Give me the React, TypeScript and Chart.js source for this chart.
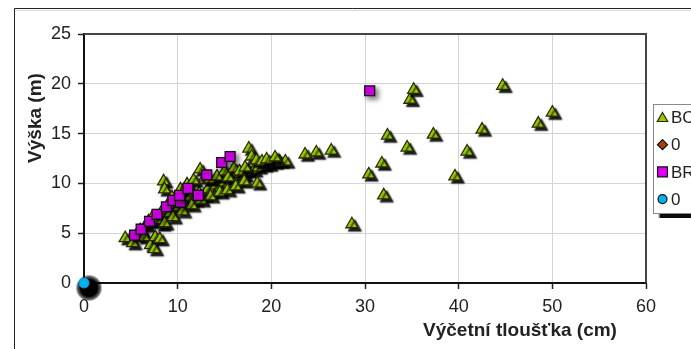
import React, { useEffect, useRef } from 'react';
import { Chart, registerables } from 'chart.js';
import { drawPoint } from 'chart.js/helpers';

Chart.register(...registerables);

// ---- data ----
const seriesLabels = ['BC', '0', 'BR', '0'];
const xTitle = 'Výčetní tloušťka (cm)';
const yTitle = 'Výška (m)';
const xMin = 0, xMax = 60, xStep = 10;
const yMin = 0, yMax = 25, yStep = 5;

const bcX = [
  4.4, 5.2, 5.6, 6.0, 6.4, 6.6, 7.1, 7.5, 7.6, 8.1, 8.3, 8.5, 8.6,
  6.9, 7.3, 7.8, 8.2, 8.8, 9.2, 9.6, 10.1, 10.4, 10.9, 11.3, 11.8, 12.3, 12.8, 13.2, 13.7,
  14.1, 14.6, 15.0, 15.5, 15.9, 16.3, 16.7, 17.1, 17.6, 18.1, 18.6, 19.2, 19.7, 20.3, 20.9, 21.5,
  9.4, 10.3, 11.0, 11.7, 12.4, 12.9, 13.4, 14.2, 15.0, 15.4, 16.0, 16.6, 17.2, 17.6, 17.9, 18.4,
  19.0, 19.5, 20.4,
  8.6, 9.5, 10.5, 11.5, 12.5, 13.5, 14.5, 15.3, 16.2, 17.1, 18.5,
  23.6, 24.8, 26.4, 28.6, 30.4, 31.8, 32.0, 32.4, 34.5, 34.8, 35.2, 37.3, 39.6, 40.9, 42.5, 44.7,
  48.5, 50.0,
];
const bcY = [
  4.5, 4.0, 4.8, 5.3, 4.6, 5.8, 3.8, 3.4, 4.6, 4.4, 5.9, 10.2, 9.4,
  6.2, 6.6, 6.3, 7.0, 7.3, 7.0, 7.8, 7.6, 8.3, 8.0, 8.6, 8.3, 9.0, 8.8, 9.4, 9.2,
  9.8, 9.6, 10.1, 10.0, 10.5, 10.4, 10.9, 10.8, 11.2, 11.3, 11.6, 11.8, 11.9, 12.1, 12.2, 12.2,
  8.6, 9.4, 9.9, 10.3, 11.4, 10.6, 10.4, 10.7, 11.2, 10.6, 11.5, 11.2, 11.6, 13.5, 12.7, 12.3,
  12.2, 12.4, 12.6,
  6.0, 6.6, 7.2, 7.8, 8.3, 8.7, 9.1, 9.3, 9.7, 10.2, 10.0,
  12.9, 13.1, 13.3, 5.9, 10.9, 12.0, 8.8, 14.8, 13.6, 18.4, 19.4, 14.9, 10.7, 13.2, 15.4, 19.8,
  16.0, 17.1,
];

const zero1X = [0];
const zero1Y = [0];

const brX = [5.4, 6.1, 7.0, 7.8, 8.8, 9.5, 10.3, 10.2, 11.1, 12.2, 13.1, 14.7, 15.6, 30.5];
const brY = [4.8, 5.4, 6.2, 6.9, 7.65, 8.3, 8.1, 8.8, 9.5, 8.8, 10.85, 12.1, 12.7, 19.3];

const zero2X = [0];
const zero2Y = [0];

const pts = (xs: number[], ys: number[]) => xs.map((x, i) => ({ x, y: ys[i] }));

// ---- styles ----
const FONT = '"Liberation Sans", Arial, Helvetica, sans-serif';
const shadowByLabelIndex: any[] = [
  { color: 'rgba(0,0,0,0.92)', blur: 1.5, ox: 3, oy: 3 },
  null,
  { color: 'rgba(0,0,0,0.5)', blur: 5, ox: 3, oy: 3 },
  null,
];
const legendMarkers = [
  { style: 'triangle', fill: '#99cc00', stroke: '#2a2a00', r: 6 },
  { style: 'rectRot', fill: '#a3410c', stroke: '#111', r: 5 },
  { style: 'rect', fill: '#dd00f5', stroke: '#111', r: 7 },
  { style: 'circle', fill: '#00b0f0', stroke: '#111', r: 4.5 },
];

const framePlugin = {
  id: 'frame',
  beforeDraw(chart: any) {
    const ctx = chart.ctx;
    ctx.save();
    ctx.fillStyle = '#fff';
    ctx.fillRect(0, 0, chart.width, chart.height);
    ctx.strokeStyle = '#222';
    ctx.lineWidth = 1;
    ctx.beginPath();
    ctx.moveTo(14.5, chart.height);
    ctx.lineTo(14.5, 8.5);
    ctx.lineTo(chart.width, 8.5);
    ctx.stroke();
    ctx.strokeStyle = '#d8d8d8';
    ctx.beginPath();
    ctx.moveTo(15.5, 10.5);
    ctx.lineTo(chart.width, 10.5);
    ctx.stroke();
    ctx.restore();
  },
  beforeDatasetsDraw(chart: any) {
    const ctx = chart.ctx;
    const a = chart.chartArea;
    ctx.save();
    ctx.strokeStyle = '#444';
    ctx.lineWidth = 2;
    ctx.beginPath();
    ctx.moveTo(a.left, a.top);
    ctx.lineTo(a.right, a.top);
    ctx.lineTo(a.right, a.bottom);
    ctx.stroke();
    ctx.restore();
  },
};

const applyShadow = (ctx: any, s: any) => {
  if (s) {
    ctx.shadowColor = s.color;
    ctx.shadowBlur = s.blur;
    ctx.shadowOffsetX = s.ox;
    ctx.shadowOffsetY = s.oy;
  } else {
    ctx.shadowColor = 'rgba(0,0,0,0)';
    ctx.shadowBlur = 0;
    ctx.shadowOffsetX = 0;
    ctx.shadowOffsetY = 0;
  }
};

const shadowPlugin = {
  id: 'markerShadow',
  beforeDatasetDraw(chart: any, args: any) {
    const idx = args.meta ? args.meta.index : args.index;
    applyShadow(chart.ctx, shadowByLabelIndex[idx]);
  },
  afterDatasetDraw(chart: any) {
    applyShadow(chart.ctx, null);
  },
};

const annotatePlugin = {
  id: 'annotate',
  afterDraw(chart: any) {
    const ctx = chart.ctx;
    ctx.save();
    applyShadow(ctx, null);
    ctx.fillStyle = '#222';
    ctx.font = `bold 19px ${FONT}`;
    ctx.textAlign = 'center';
    ctx.textBaseline = 'middle';
    ctx.fillText(xTitle, 520, 331);
    ctx.save();
    ctx.translate(36, 118);
    ctx.rotate(-Math.PI / 2);
    ctx.fillText(yTitle, 0, 0);
    ctx.restore();

    const bx = 653.5, by = 104.5, bw = 80, bh = 109;
    ctx.save();
    applyShadow(ctx, { color: 'rgba(0,0,0,0.95)', blur: 1, ox: 4, oy: 4 });
    ctx.fillStyle = '#fff';
    ctx.fillRect(bx, by, bw, bh);
    ctx.restore();
    ctx.strokeStyle = '#8a8a8a';
    ctx.lineWidth = 1;
    ctx.strokeRect(bx, by, bw, bh);

    ctx.font = `17px ${FONT}`;
    ctx.textAlign = 'left';
    ctx.textBaseline = 'middle';
    seriesLabels.forEach((label, i) => {
      const cy = 117.5 + i * 27.2;
      const m = legendMarkers[i];
      ctx.fillStyle = m.fill;
      ctx.strokeStyle = m.stroke;
      ctx.lineWidth = 1.2;
      drawPoint(ctx, { pointStyle: m.style, radius: m.r, rotation: 0, borderWidth: 1.2 } as any, 662.5, cy + (m.style === 'triangle' ? 1 : 0));
      ctx.fillStyle = '#222';
      ctx.fillText(label, 671, cy + 1);
    });
    ctx.restore();
  },
};

// soft black blob behind the origin marker, offset down-right like a drop shadow
const blobFill = (c: any) => {
  const chart = c.chart;
  const xs = chart.scales && chart.scales.x;
  const ys = chart.scales && chart.scales.y;
  if (!xs || !ys || !chart.chartArea) return '#000';
  const px = xs.getPixelForValue(zero1X[0]) + 5;
  const py = ys.getPixelForValue(zero1Y[0]) + 5;
  const g = chart.ctx.createRadialGradient(px, py, 0, px, py, 13.5);
  g.addColorStop(0, 'rgba(0,0,0,1)');
  g.addColorStop(0.62, 'rgba(0,0,0,1)');
  g.addColorStop(0.85, 'rgba(0,0,0,0.6)');
  g.addColorStop(1, 'rgba(0,0,0,0)');
  return g;
};

export default function App() {
  const ref = useRef<HTMLCanvasElement | null>(null);

  useEffect(() => {
    if (!ref.current) return;
    const tickFont = { family: FONT, size: 18 };
    const chart = new Chart(ref.current, {
      type: 'scatter',
      data: {
        datasets: [
          {
            label: seriesLabels[0],
            data: pts(bcX, bcY),
            pointStyle: 'triangle',
            pointRadius: 7,
            pointBackgroundColor: '#99cc00',
            pointBorderColor: '#2a2a00',
            pointBorderWidth: 1.3,
            order: 4,
          },
          {
            label: seriesLabels[1],
            data: pts(zero1X, zero1Y),
            pointStyle: 'circle',
            pointRadius: 20,
            pointBackgroundColor: blobFill,
            pointBorderColor: 'rgba(0,0,0,0)',
            pointBorderWidth: 0,
            clip: 40,
            order: 3,
          },
          {
            label: seriesLabels[2],
            data: pts(brX, brY),
            pointStyle: 'rect',
            pointRadius: 7,
            pointBackgroundColor: '#dd00f5',
            pointBorderColor: '#111',
            pointBorderWidth: 1.3,
            order: 2,
          },
          {
            label: seriesLabels[3],
            data: pts(zero2X, zero2Y),
            pointStyle: 'circle',
            pointRadius: 5,
            pointBackgroundColor: '#00b0f0',
            pointBorderColor: '#00a0e0',
            pointBorderWidth: 1,
            clip: 40,
            order: 1,
          },
        ] as any,
      },
      options: {
        responsive: false,
        animation: false,
        events: [],
        layout: { padding: { left: 0, top: 34, right: 45, bottom: 0 } },
        plugins: {
          legend: { display: false },
          tooltip: { enabled: false },
        },
        scales: {
          x: {
            type: 'linear',
            min: xMin,
            max: xMax,
            ticks: { stepSize: xStep, font: tickFont, color: '#222', padding: 7, maxRotation: 0 },
            grid: { color: '#d4d4d4', lineWidth: 1, tickLength: 6, tickColor: '#222', tickWidth: 1.5 },
            border: { display: true, color: '#111', width: 2 },
            afterFit: (s: any) => { s.height = 66; },
          },
          y: {
            type: 'linear',
            min: yMin,
            max: yMax,
            ticks: { stepSize: yStep, font: tickFont, color: '#222', padding: 7 },
            grid: { color: '#d4d4d4', lineWidth: 1, tickLength: 6, tickColor: '#222', tickWidth: 1.5 },
            border: { display: true, color: '#111', width: 2 },
            afterFit: (s: any) => { s.width = 84; },
          },
        },
      } as any,
      plugins: [framePlugin, shadowPlugin, annotatePlugin],
    });
    return () => chart.destroy();
  }, []);

  return (
    <div style={{ position: 'fixed', left: 0, top: 0, width: 691, height: 349, overflow: 'hidden', background: '#fff' }}>
      <canvas ref={ref} width={691} height={349} style={{ display: 'block' }} />
    </div>
  );
}
